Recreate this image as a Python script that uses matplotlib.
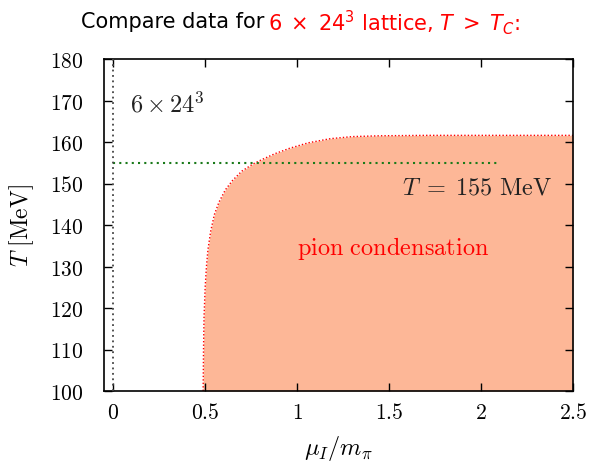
import matplotlib
matplotlib.use("Agg")
import matplotlib.pyplot as plt
from matplotlib.ticker import FuncFormatter

plt.rcParams['mathtext.fontset'] = 'cm'
plt.rcParams['font.family'] = ['DejaVu Sans']

# boundary of pion condensation phase (mu_I/m_pi, T [MeV])
boundary_mu = [0.489, 0.491, 0.494, 0.50, 0.507, 0.515, 0.53, 0.55, 0.575, 0.61, 0.65,
               0.70, 0.76, 0.81, 0.88, 0.96, 1.06, 1.18, 1.30, 1.45, 1.70, 2.10, 2.50]
boundary_T = [100.0, 110.0, 118.0, 125.0, 130.0, 134.0, 138.5, 142.5, 145.5, 148.5, 150.8,
              153.0, 154.7, 155.8, 157.2, 158.5, 159.8, 160.8, 161.3, 161.5, 161.6, 161.6, 161.6]

T_line = 155
T_line_mu = [0.0, 2.1]
xticks = [0, 0.5, 1, 1.5, 2, 2.5]
yticks = [100, 110, 120, 130, 140, 150, 160, 170, 180]

fig = plt.figure(figsize=(5.94, 4.64), dpi=100)
ax = fig.add_axes([104/594, 72/464, 469/594, 332/464])

ax.fill_between(boundary_mu, boundary_T, 100, color='#fdb797', linewidth=0, zorder=1)
ax.plot(boundary_mu, boundary_T, color='red', linestyle=(0, (1, 1.5)), linewidth=1.0, zorder=2)
ax.plot(T_line_mu, [T_line, T_line], color='#1a7a1a', linestyle=(0, (1, 2)), linewidth=1.5, zorder=3)
ax.axvline(0, color='#444444', linestyle=(0, (1, 2)), linewidth=1.3, zorder=3)

ax.set_xlim(-0.05, 2.5)
ax.set_ylim(100, 180)
ax.set_xticks(xticks)
ax.set_yticks(yticks)
fmt = FuncFormatter(lambda v, p: f'${v:g}$')
ax.xaxis.set_major_formatter(fmt)
ax.yaxis.set_major_formatter(fmt)
ax.tick_params(direction='in', top=True, right=True, length=6, width=1, labelsize=15.5)
ax.tick_params(axis='x', pad=8)
ax.tick_params(axis='y', pad=15)
for s in ax.spines.values():
    s.set_linewidth(1.2)

ax.set_xlabel(r'$\mu_I/m_\pi$', fontsize=17.5, labelpad=8)
ax.set_ylabel(r'$T\ [\mathrm{MeV}]$', fontsize=17, labelpad=10)

ax.text(0.09, 169.3, r'$6\times24^3$', fontsize=17.5, color='#222222', va='center', ha='left')
ax.text(1.98, 149.2, r'$T\;=\;155\ \mathrm{MeV}$', fontsize=17.5, color='#222222', va='center', ha='center')
ax.text(1.52, 134.5, r'$\mathrm{pion\ condensation}$', fontsize=17.5, color='red', va='center', ha='center')

fig.text(0.445, 0.952, 'Compare data for', fontsize=15, color='black', ha='right', va='center')
fig.text(0.452, 0.952, r'$6\;\times\;24^3$ lattice, $T\;>\;T_C$:', fontsize=15, color='red',
         ha='left', va='center', math_fontfamily='dejavusans')

fig.savefig('out.png', dpi=100)
